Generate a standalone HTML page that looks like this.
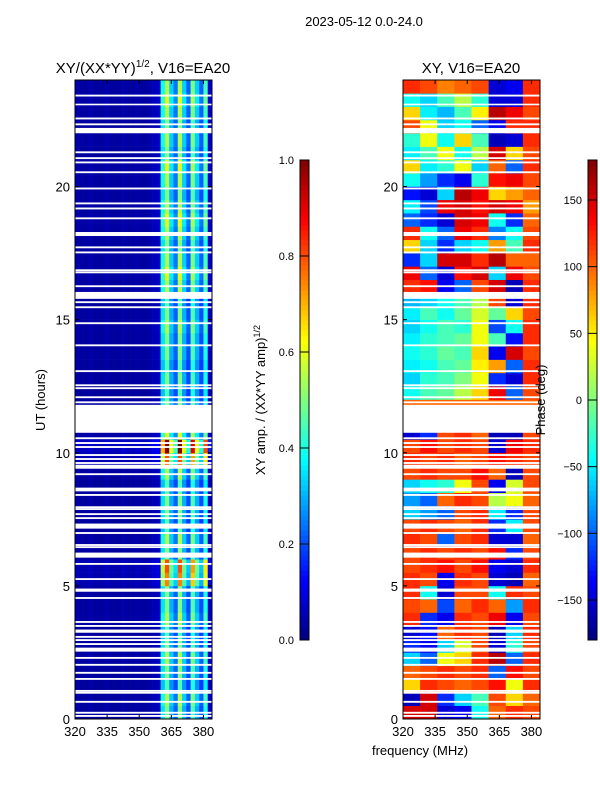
<!DOCTYPE html>
<html><head><meta charset="utf-8"><style>
body{margin:0;background:#fff;}
svg text{font-family:"Liberation Sans",sans-serif;}
</style></head><body>
<svg id="fig" width="600" height="800" xmlns="http://www.w3.org/2000/svg">
<rect width="600" height="800" fill="#fff"/>
<text x="364" y="26" font-size="13" text-anchor="middle">2023-05-12 0.0-24.0</text>
<text x="143" y="73" font-size="15" text-anchor="middle">XY/(XX*YY)<tspan font-size="10" dy="-6">1/2</tspan><tspan dy="6">, V16=EA20</tspan></text>
<text x="471" y="73" font-size="15" text-anchor="middle">XY, V16=EA20</text>
<g id="ampHeat"></g>
<g id="phHeat"></g>
<g id="axes"></g>
<text transform="translate(45,400) rotate(-90)" font-size="13" text-anchor="middle">UT (hours)</text>
<text x="420" y="755" font-size="13" text-anchor="middle">frequency (MHz)</text>
<text transform="translate(265,400) rotate(-90)" font-size="13" text-anchor="middle">XY amp. / (XX*YY amp)<tspan font-size="9" dy="-5">1/2</tspan></text>
<text transform="translate(545,400) rotate(-90)" font-size="13" text-anchor="middle">Phase (deg)</text>
</svg>
<script>
const freqEdges=[320,384];
const yRange=[0,24];
const xTicks=[320,335,350,365,380];
const yTicks=[0,5,10,15,20];
// amplitude per 2 MHz channel (320..384)
const ampProfile=[0.04,0.03,0.03,0.04,0.03,0.03,0.03,0.04,0.03,0.03,0.03,0.04,0.03,0.03,0.04,0.03,0.03,0.04,0.05,0.06,0.35,0.5,0.3,0.22,0.5,0.3,0.2,0.45,0.3,0.2,0.4,0.08];
// row gain per 0.5 h (0..24)
const ampRowGain=[1,1.1,0.9,1,1.1,1,0.9,1.1,1,1,1.5,1.6,1,1.1,0.9,1,1,0.9,1.1,1.6,2.0,1.2,1,1,0.9,1,0.9,1,1,1.1,1,0.9,1.1,1.2,1.1,1,1.1,1.2,1.1,1,1.1,1.2,1,1.1,1,1.1,1.2,1.1];
// phase (deg) per 8 MHz block, per 0.5 h row
const phaseRows=[
[150,150,-150,-140,-40,100,120,110],[-160,150,-120,-60,-20,110,60,100],
[60,120,110,100,110,130,40,120],[100,110,120,110,120,-100,130,110],
[-60,-100,40,60,120,160,-100,120],[-120,-140,-60,30,110,-150,-30,110],
[-150,-130,100,120,110,-160,-60,120],[120,-120,-140,120,110,140,-140,110],
[110,100,-110,100,120,100,-80,120],[120,-40,-150,110,110,-40,120,110],
[120,110,-140,120,110,-150,-160,100],[110,120,130,110,130,-140,-150,120],
[110,120,110,120,110,130,-120,110],[120,110,-100,110,120,-150,-150,100],
[110,120,110,100,120,-120,-50,110],[-60,-80,-100,110,120,-50,-120,110],
[-80,-100,100,120,110,20,40,100],[-60,-40,-30,40,110,-140,30,110],
[110,120,110,110,130,100,-160,110],[120,110,120,100,110,130,120,110],
[110,130,110,120,110,-150,140,120],[-150,-120,110,120,100,-160,-160,110],
[100,100,100,100,100,100,100,100],[100,100,100,100,100,100,100,100],
[-40,-20,-10,20,60,140,-100,110],[-60,-30,-20,0,40,-120,-150,120],
[-50,-40,-20,-10,50,80,-100,120],[-40,-30,-10,-20,60,-140,150,110],
[-50,-30,-20,-10,40,-20,-130,120],[-60,-40,-20,-30,40,-110,-40,120],
[-50,-20,-40,-10,30,-10,60,110],[-70,-60,-40,-20,20,110,-150,120],
[120,130,-140,-100,110,150,-160,120],[140,-100,-150,130,150,-60,140,110],
[-120,-60,150,150,120,160,100,100],[60,-60,-120,-60,-40,80,-20,120],
[120,-40,-100,140,120,-90,-40,110],[-100,-120,-150,150,140,-40,-120,100],
[-50,-110,140,150,130,150,140,80],[-130,-150,-60,160,140,60,80,100],
[-40,-80,-120,-140,-30,130,140,110],[60,-50,-30,40,-60,100,-100,120],
[-50,-20,40,-40,20,150,60,110],[-30,40,-40,60,-20,-160,-150,120],
[110,40,-60,-40,-100,-140,120,120],[60,-50,-70,-20,50,160,140,110],
[-40,-60,-20,20,-30,-150,-150,120],[120,110,90,100,110,-150,-140,120]];
// flagged time ranges (hours)
const gapStart=[23.38,23.05,22.52,22.3,22.0,21.25,21.03,20.87,20.5,19.89,19.33,19.14,18.77,18.14,17.68,17.49,16.82,16.74,16.22,15.78,15.62,15.43,14.83,14.0,13.03,12.5,12.39,12.05,11.86,10.75,10.51,10.33,10.18,9.88,9.73,9.58,9.4,9.16,8.55,8.38,7.92,7.85,7.66,7.51,7.15,6.95,6.5,6.42,6.06,5.79,5.22,4.78,4.51,3.61,3.46,3.24,3.05,2.93,2.78,2.53,2.26,2.0,1.7,1.47,1.02,0.95,0.61,0.2,0.08];
const gapEnd=[23.45,23.11,22.59,22.37,22.2,21.32,21.1,20.94,20.57,19.96,19.4,19.21,18.84,18.29,17.75,17.56,16.89,16.81,16.29,16.04,15.69,15.5,14.9,14.07,13.1,12.57,12.46,12.12,11.93,11.8,10.58,10.4,10.25,9.95,9.8,9.65,9.55,9.23,8.69,8.45,7.99,7.92,7.73,7.58,7.34,7.02,6.57,6.49,6.25,5.86,5.29,4.9,4.58,3.68,3.53,3.36,3.12,3.0,2.85,2.68,2.33,2.07,1.77,1.54,1.09,1.02,0.68,0.27,0.15];
const ampCbTicks=[0.0,0.2,0.4,0.6,0.8,1.0];
const phCbTicks=[-150,-100,-50,0,50,100,150];

const NS='http://www.w3.org/2000/svg';
const panels=[{x0:75,x1:212,name:'amp'},{x0:403,x1:540,name:'phase'}];
const Y0=719,Y1=80;
function sx(p,f){return p.x0+(f-freqEdges[0])/(freqEdges[1]-freqEdges[0])*(p.x1-p.x0);}
function sy(h){return Y0+(h-yRange[0])/(yRange[1]-yRange[0])*(Y1-Y0);}
function jet(v){v=Math.max(0,Math.min(1,v));
 const r=Math.min(4*v-1.5,-4*v+4.5),g=Math.min(4*v-0.5,-4*v+3.5),b=Math.min(4*v+0.5,-4*v+2.5);
 const c=x=>Math.round(255*Math.max(0,Math.min(1,x)));return `rgb(${c(r)},${c(g)},${c(b)})`;}
function mk(t,a,parent){const e=document.createElementNS(NS,t);for(const k in a)e.setAttribute(k,a[k]);parent.appendChild(e);return e;}
const amp=document.getElementById('ampHeat'),ph=document.getElementById('phHeat'),ax=document.getElementById('axes'),fig=document.getElementById('fig');
const nRows=ampRowGain.length,dh=(yRange[1]-yRange[0])/nRows;
const cw=(freqEdges[1]-freqEdges[0])/ampProfile.length;
for(let r=0;r<nRows;r++){for(let c=0;c<ampProfile.length;c++){
 const f=freqEdges[0]+c*cw,h=r*dh,p=panels[0];
 const v=Math.min(1,ampProfile[c]*ampRowGain[r]);
 const e=mk('rect',{x:sx(p,f),y:sy(h+dh),width:sx(p,f+cw)-sx(p,f)+0.3,height:sy(h)-sy(h+dh)+0.3,fill:jet(v)},amp);
 
 }}
const pw=(freqEdges[1]-freqEdges[0])/phaseRows[0].length;
for(let r=0;r<phaseRows.length;r++){for(let c=0;c<phaseRows[r].length;c++){
 const f=freqEdges[0]+c*pw,h=r*dh,p=panels[1];
 const e=mk('rect',{x:sx(p,f),y:sy(h+dh),width:sx(p,f+pw)-sx(p,f)+0.3,height:sy(h)-sy(h+dh)+0.3,fill:jet((phaseRows[r][c]+180)/360)},ph);
 
 }}
panels.forEach(p=>{for(let i=0;i<gapStart.length;i++){
 const e=mk('rect',{x:p.x0,y:sy(gapEnd[i]),width:p.x1-p.x0,height:Math.max(1.2,sy(gapStart[i])-sy(gapEnd[i])),fill:'#fff'},ax);
 
 }});
panels.forEach(p=>{
 const fr=mk('rect',{x:p.x0,y:Y1,width:p.x1-p.x0,height:Y0-Y1,fill:'none',stroke:'#000','stroke-width':1},ax);
 
 
 xTicks.forEach(t=>{const x=sx(p,t);
  mk('line',{x1:x,x2:x,y1:Y0,y2:Y0-4,stroke:'#000'},ax);mk('line',{x1:x,x2:x,y1:Y1,y2:Y1+4,stroke:'#000'},ax);
  const tx=mk('text',{x:x,y:Y0+17,'font-size':13,'text-anchor':'middle'},ax);tx.textContent=t;
  
  });
 yTicks.forEach(t=>{const y=sy(t);
  mk('line',{x1:p.x0,x2:p.x0+4,y1:y,y2:y,stroke:'#000'},ax);mk('line',{x1:p.x1,x2:p.x1-4,y1:y,y2:y,stroke:'#000'},ax);
  const tx=mk('text',{x:p.x0-5,y:y+5,'font-size':13,'text-anchor':'end'},ax);tx.textContent=t;
  
  });
});
function cbar(x,vmin,vmax,ticks,name,fmt){
 const g=mk('g',{},fig);
 
 
 const top=160,bot=640;
 for(let i=0;i<96;i++){mk('rect',{x:x,y:bot-(i+1)*(bot-top)/96,width:9,height:(bot-top)/96+0.5,fill:jet((i+0.5)/96)},g);}
 mk('rect',{x:x,y:top,width:9,height:bot-top,fill:'none',stroke:'#000'},g);
 ticks.forEach(t=>{const y=bot-(t-vmin)/(vmax-vmin)*(bot-top);
  mk('line',{x1:x,x2:x+9,y1:y,y2:y,stroke:'#000'},g);
  const tx=mk('text',{x:x-6,y:y+4,'font-size':11,'text-anchor':'end'},g);tx.textContent=fmt(t);
  
  });
}
cbar(300,0,1,ampCbTicks,'amp-colorbar',t=>t.toFixed(1));
cbar(588,-180,180,phCbTicks,'phase-colorbar',t=>t<0?'\u2212'+(-t):''+t);
</script>
</body></html>
